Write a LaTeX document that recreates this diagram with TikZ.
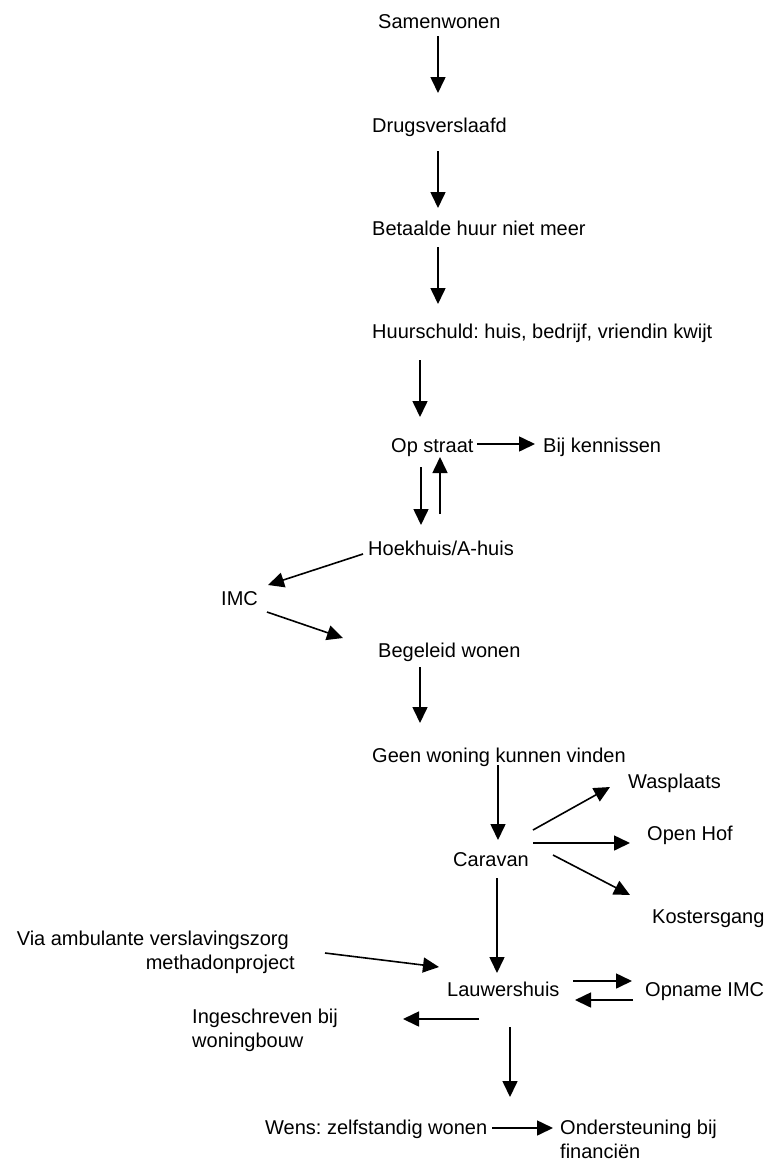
\documentclass[tikz,border=0pt]{standalone}
\usepackage{fontspec}
\setmainfont{Liberation Sans}
\usepackage{tikz}
\usetikzlibrary{calc,arrows.meta,positioning}
\frenchspacing
\tikzset{
  ar/.style={-{Triangle[length=16pt,width=15pt]},line width=1.6pt,black},
  txt/.style={inner sep=0pt,anchor=base west,font=\fontsize{20}{24}\selectfont}
}
\begin{document}
\begin{tikzpicture}[x=1pt,y=-1pt]
\useasboundingbox (0,0) rectangle (766,1165);
% stations
\node[txt] (samen) at (378,28) {Samenwonen};
\node[txt] (drugs) at (372,132) {Drugsverslaafd};
\node[txt] (betaal) at (372,235) {Betaalde huur niet meer};
\node[txt] (huur) at (372,338) {Huurschuld: huis, bedrijf, vriendin kwijt};
\node[txt] (op) at (391,452) {Op straat};
\node[txt] (kennis) at (543,452) {Bij kennissen};
\node[txt] (hoek) at (368,555) {Hoekhuis/A-huis};
\node[txt] (imc) at (221,605) {IMC};
\node[txt] (begel) at (378,657) {Begeleid wonen};
\node[txt] (geen) at (372,762) {Geen woning kunnen vinden};
\node[txt] (carav) at (453,866) {Caravan};
\node[txt] (wasp) at (628,788) {Wasplaats};
\node[txt] (openh) at (647,840) {Open Hof};
\node[txt] (koster) at (652,923) {Kostersgang};
\node[txt,anchor=base east,align=right] (via) at (295,969) {Via ambulante verslavingszorg\hspace*{6pt}\\methadonproject};
\node[txt] (lauw) at (447,996) {Lauwershuis};
\node[txt] (opname) at (645,996) {Opname IMC};
\node[txt,align=left] (inge) at (192,1047) {Ingeschreven bij\\woningbouw};
\node[txt] (wens) at (265,1134) {Wens: zelfstandig wonen};
\node[txt,align=left] (onder) at (560,1158) {Ondersteuning bij\\financiën};
% pijlen
\draw[ar] ($(samen.base west)+(60,8)$) -- ($(drugs.base west)+(66,-39)$);
\draw[ar] ($(drugs.base west)+(66,19)$) -- ($(betaal.base west)+(66,-27)$);
\draw[ar] ($(betaal.base west)+(66,12)$) -- ($(huur.base west)+(66,-34)$);
\draw[ar] ($(huur.base west)+(48,22)$) -- ($(op.base west)+(29,-35)$);
\draw[ar] ($(op.base west)+(86,-8)$) -- ($(kennis.base west)+(-8,-8)$);
\draw[ar] ($(op.base west)+(30,15)$) -- ($(hoek.base west)+(53,-30)$);
\draw[ar] ($(hoek.base west)+(72,-41)$) -- ($(op.base west)+(49,5)$);
\draw[ar] ($(hoek.base west)+(-5,-1)$) -- ($(imc.base west)+(47,-20)$);
\draw[ar] ($(imc.base west)+(46,7)$) -- ($(begel.base west)+(-35,-19)$);
\draw[ar] ($(begel.base west)+(42,10)$) -- ($(geen.base west)+(48,-39)$);
\draw[ar] ($(geen.base west)+(126,3)$) -- ($(carav.base west)+(45,-26)$);
\draw[ar] ($(carav.base west)+(80,-36)$) -- ($(wasp.base west)+(-18,-1)$);
\draw[ar] ($(carav.base west)+(80,-23)$) -- ($(openh.base west)+(-17,3)$);
\draw[ar] ($(carav.base west)+(100,-11)$) -- ($(koster.base west)+(-22,-28)$);
\draw[ar] ($(carav.base west)+(44,12)$) -- ($(lauw.base west)+(50,-23)$);
\draw[ar] ($(via.base east)+(30,-16)$) -- ($(lauw.base west)+(-8,-29)$);
\draw[ar] ($(lauw.base west)+(126,-15)$) -- ($(opname.base west)+(-13,-15)$);
\draw[ar] ($(opname.base west)+(-12,4)$) -- ($(lauw.base west)+(128,4)$);
\draw[ar] ($(lauw.base west)+(32,23)$) -- ($(inge.base west)+(211,-28)$);
\draw[ar] ($(lauw.base west)+(63,31)$) -- ($(wens.base west)+(245,-37)$);
\draw[ar] ($(wens.base west)+(227,-6)$) -- ($(onder.base west)+(-7,-30)$);
\end{tikzpicture}
\end{document}
